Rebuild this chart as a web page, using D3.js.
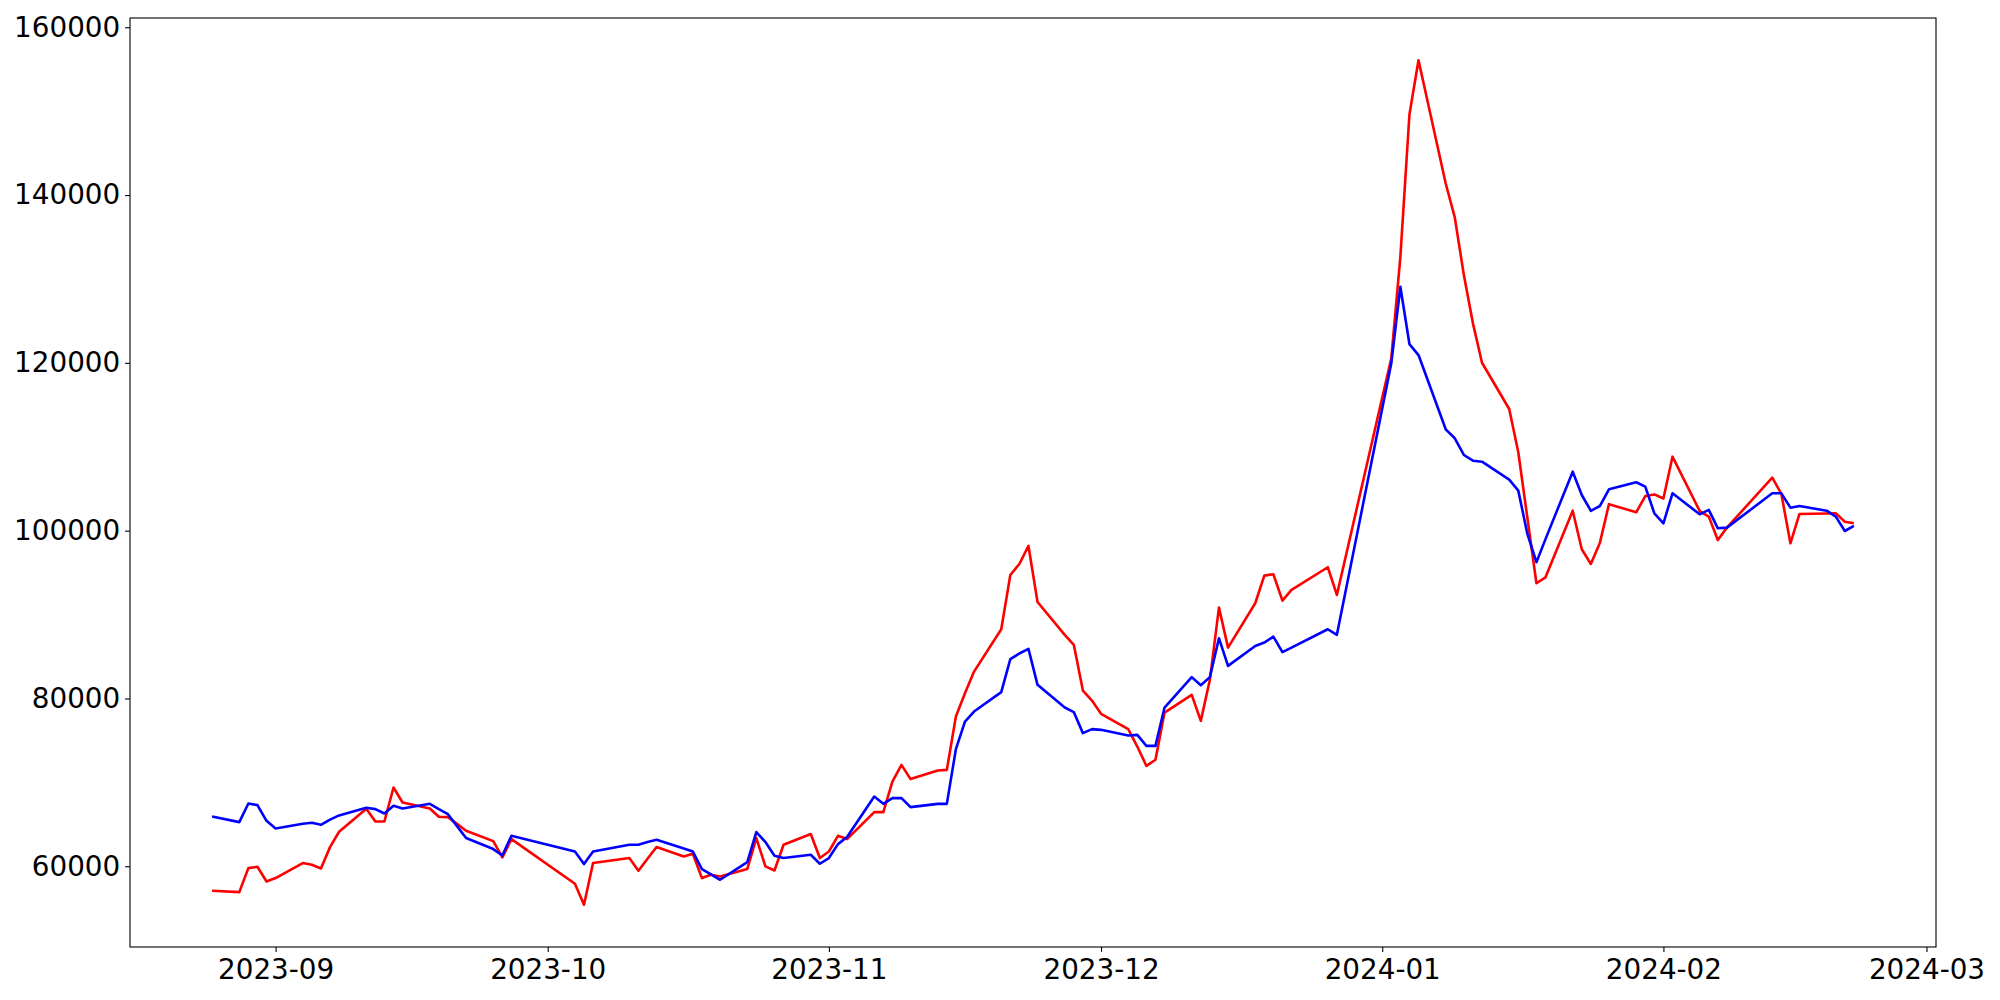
<!DOCTYPE html>
<html>
<head>
<meta charset="utf-8">
<script src="https://cdn.jsdelivr.net/npm/d3@7"></script>
<style>
  body { margin: 0; background: #fff; }
  text { font-family: "DejaVu Sans", sans-serif; }
</style>
</head>
<body>
<div id="my_dataviz"></div>
<script>
// trading days shown on the chart
var dates = [
  "2023-08-25","2023-08-28","2023-08-29","2023-08-30","2023-08-31","2023-09-01",
  "2023-09-04","2023-09-05","2023-09-06","2023-09-07","2023-09-08",
  "2023-09-11","2023-09-12","2023-09-13","2023-09-14","2023-09-15",
  "2023-09-18","2023-09-19","2023-09-20","2023-09-21","2023-09-22",
  "2023-09-25","2023-09-26","2023-09-27",
  "2023-10-04","2023-10-05","2023-10-06",
  "2023-10-10","2023-10-11","2023-10-12","2023-10-13",
  "2023-10-16","2023-10-17","2023-10-18","2023-10-19","2023-10-20",
  "2023-10-23","2023-10-24","2023-10-25","2023-10-26","2023-10-27",
  "2023-10-30","2023-10-31","2023-11-01","2023-11-02","2023-11-03",
  "2023-11-06","2023-11-07","2023-11-08","2023-11-09","2023-11-10",
  "2023-11-13","2023-11-14","2023-11-15","2023-11-16","2023-11-17",
  "2023-11-20","2023-11-21","2023-11-22","2023-11-23","2023-11-24",
  "2023-11-27","2023-11-28","2023-11-29","2023-11-30","2023-12-01",
  "2023-12-04","2023-12-05","2023-12-06","2023-12-07","2023-12-08",
  "2023-12-11","2023-12-12","2023-12-13","2023-12-14","2023-12-15",
  "2023-12-18","2023-12-19","2023-12-20","2023-12-21","2023-12-22",
  "2023-12-26","2023-12-27",
  "2024-01-02","2024-01-03","2024-01-04","2024-01-05",
  "2024-01-08","2024-01-09","2024-01-10","2024-01-11","2024-01-12",
  "2024-01-15","2024-01-16","2024-01-17","2024-01-18","2024-01-19",
  "2024-01-22","2024-01-23","2024-01-24","2024-01-25","2024-01-26",
  "2024-01-29","2024-01-30","2024-01-31","2024-02-01","2024-02-02",
  "2024-02-05","2024-02-06","2024-02-07","2024-02-08",
  "2024-02-13","2024-02-14","2024-02-15","2024-02-16",
  "2024-02-19","2024-02-20","2024-02-21","2024-02-22"
];

// red series
var redValues = [
  57080, 56920, 59780, 59940, 58190, 58590,
  60380, 60180, 59740, 62280, 64110,
  66850, 65340, 65340, 69390, 67600,
  66890, 65900, 65860, 65050, 64230,
  63000, 61050, 63240,
  57920, 55410, 60380,
  60980, 59460, 60900, 62290,
  61170, 61490, 58590, 58990, 58790,
  59670, 63360, 59980, 59500, 62560,
  63840, 60980, 61760, 63630, 63240,
  66450, 66450, 70100, 72090, 70390,
  71410, 71490, 77840, 80620, 83200,
  88250, 94720, 96030, 98180, 91500,
  87580, 86390, 80940, 79750, 78170,
  76340, 74270, 71970, 72690, 78320,
  80430, 77330, 82220, 90830, 86060,
  91350, 94640, 94810, 91660, 92940,
  95640, 92340,
  120540, 132640, 149600, 156070,
  141380, 137330, 130460, 124710, 120010,
  114500, 109350, 101540, 93730, 94440,
  102380, 97780, 96030, 98570, 103160,
  102190, 104120, 104320, 103840, 108820,
  102340, 101670, 98890, 100360,
  106320, 104390, 98490, 101990,
  102050, 102070, 101070, 100880
];

// blue series
var blueValues = [
  65940, 65260, 67480, 67290, 65420, 64510,
  65060, 65180, 64940, 65550, 66060,
  66970, 66810, 66290, 67210, 66890,
  67440, 66800, 66210, 64780, 63360,
  62050, 61290, 63630,
  61760, 60260, 61760,
  62560, 62560, 62900, 63160,
  62120, 61760, 59670, 59020, 58390,
  60500, 64070, 62890, 61250, 60980,
  61370, 60300, 60980, 62640, 63480,
  68310, 67440, 68120, 68120, 67050,
  67440, 67440, 73960, 77250, 78440,
  80750, 84680, 85360, 85910, 81620,
  78920, 78370, 75870, 76340, 76260,
  75580, 75660, 74350, 74350, 78920,
  82540, 81580, 82540, 87180, 83880,
  86260, 86660, 87370, 85520, 86060,
  88250, 87580,
  119940, 129070, 122240, 120930,
  112080, 111010, 109020, 108340, 108220,
  106080, 104770, 99610, 96240, 98990,
  107030, 104250, 102370, 102940, 104930,
  105770, 105240, 102070, 100880, 104450,
  101950, 102470, 100280, 100360,
  104450, 104450, 102740, 102940,
  102380, 101670, 99960, 100560
];

var yTicks = [60000, 80000, 100000, 120000, 140000, 160000];

var margin = {top: 18, right: 64, bottom: 53, left: 130},
    width = 2000 - margin.left - margin.right,
    height = 1000 - margin.top - margin.bottom;

var parseDate = d3.timeParse("%Y-%m-%d");

var data = dates.map(function(d, i) {
  return {date: parseDate(d), red: redValues[i], blue: blueValues[i]};
});

var svg = d3.select("#my_dataviz")
  .append("svg")
    .attr("width", width + margin.left + margin.right)
    .attr("height", height + margin.top + margin.bottom)
  .append("g")
    .attr("transform", "translate(" + margin.left + "," + margin.top + ")");

// matplotlib style 5% padding on both axes
var xExt = d3.extent(data, function(d) { return d.date; });
var xPad = (xExt[1] - xExt[0]) * 0.05;
var x = d3.scaleTime()
  .domain([new Date(+xExt[0] - xPad), new Date(+xExt[1] + xPad)])
  .range([0, width]);

var yMin = d3.min(data, function(d) { return Math.min(d.red, d.blue); });
var yMax = d3.max(data, function(d) { return Math.max(d.red, d.blue); });
var yPad = (yMax - yMin) * 0.05;
var y = d3.scaleLinear()
  .domain([yMin - yPad, yMax + yPad])
  .range([height, 0]);

// X axis
var xAxis = svg.append("g")
  .attr("transform", "translate(0," + height + ")")
  .call(d3.axisBottom(x)
    .ticks(d3.timeMonth.every(1))
    .tickFormat(d3.timeFormat("%Y-%m"))
    .tickSizeOuter(0)
    .tickSize(4.9)
    .tickPadding(7));

// Y axis
var yAxis = svg.append("g")
  .call(d3.axisLeft(y)
    .tickValues(yTicks)
    .tickFormat(d3.format("d"))
    .tickSizeOuter(0)
    .tickSize(4.9)
    .tickPadding(4.9));

[xAxis, yAxis].forEach(function(a) {
  a.select(".domain").remove();
  a.selectAll("line").attr("stroke", "#000").attr("stroke-width", 1.1);
  a.selectAll("text")
    .style("font-family", "'DejaVu Sans', sans-serif")
    .style("font-size", "27.8px")
    .attr("fill", "#000");
});

// lines
var redLine = d3.line()
  .x(function(d) { return x(d.date); })
  .y(function(d) { return y(d.red); });

var blueLine = d3.line()
  .x(function(d) { return x(d.date); })
  .y(function(d) { return y(d.blue); });

svg.append("path")
  .datum(data)
  .attr("fill", "none")
  .attr("stroke", "red")
  .attr("stroke-width", 2.6)
  .attr("stroke-linejoin", "round")
  .attr("d", redLine);

svg.append("path")
  .datum(data)
  .attr("fill", "none")
  .attr("stroke", "blue")
  .attr("stroke-width", 2.6)
  .attr("stroke-linejoin", "round")
  .attr("d", blueLine);

// frame
svg.append("rect")
  .attr("x", 0)
  .attr("y", 0)
  .attr("width", width)
  .attr("height", height)
  .attr("fill", "none")
  .attr("stroke", "#000")
  .attr("stroke-width", 1.1);
</script>
</body>
</html>
